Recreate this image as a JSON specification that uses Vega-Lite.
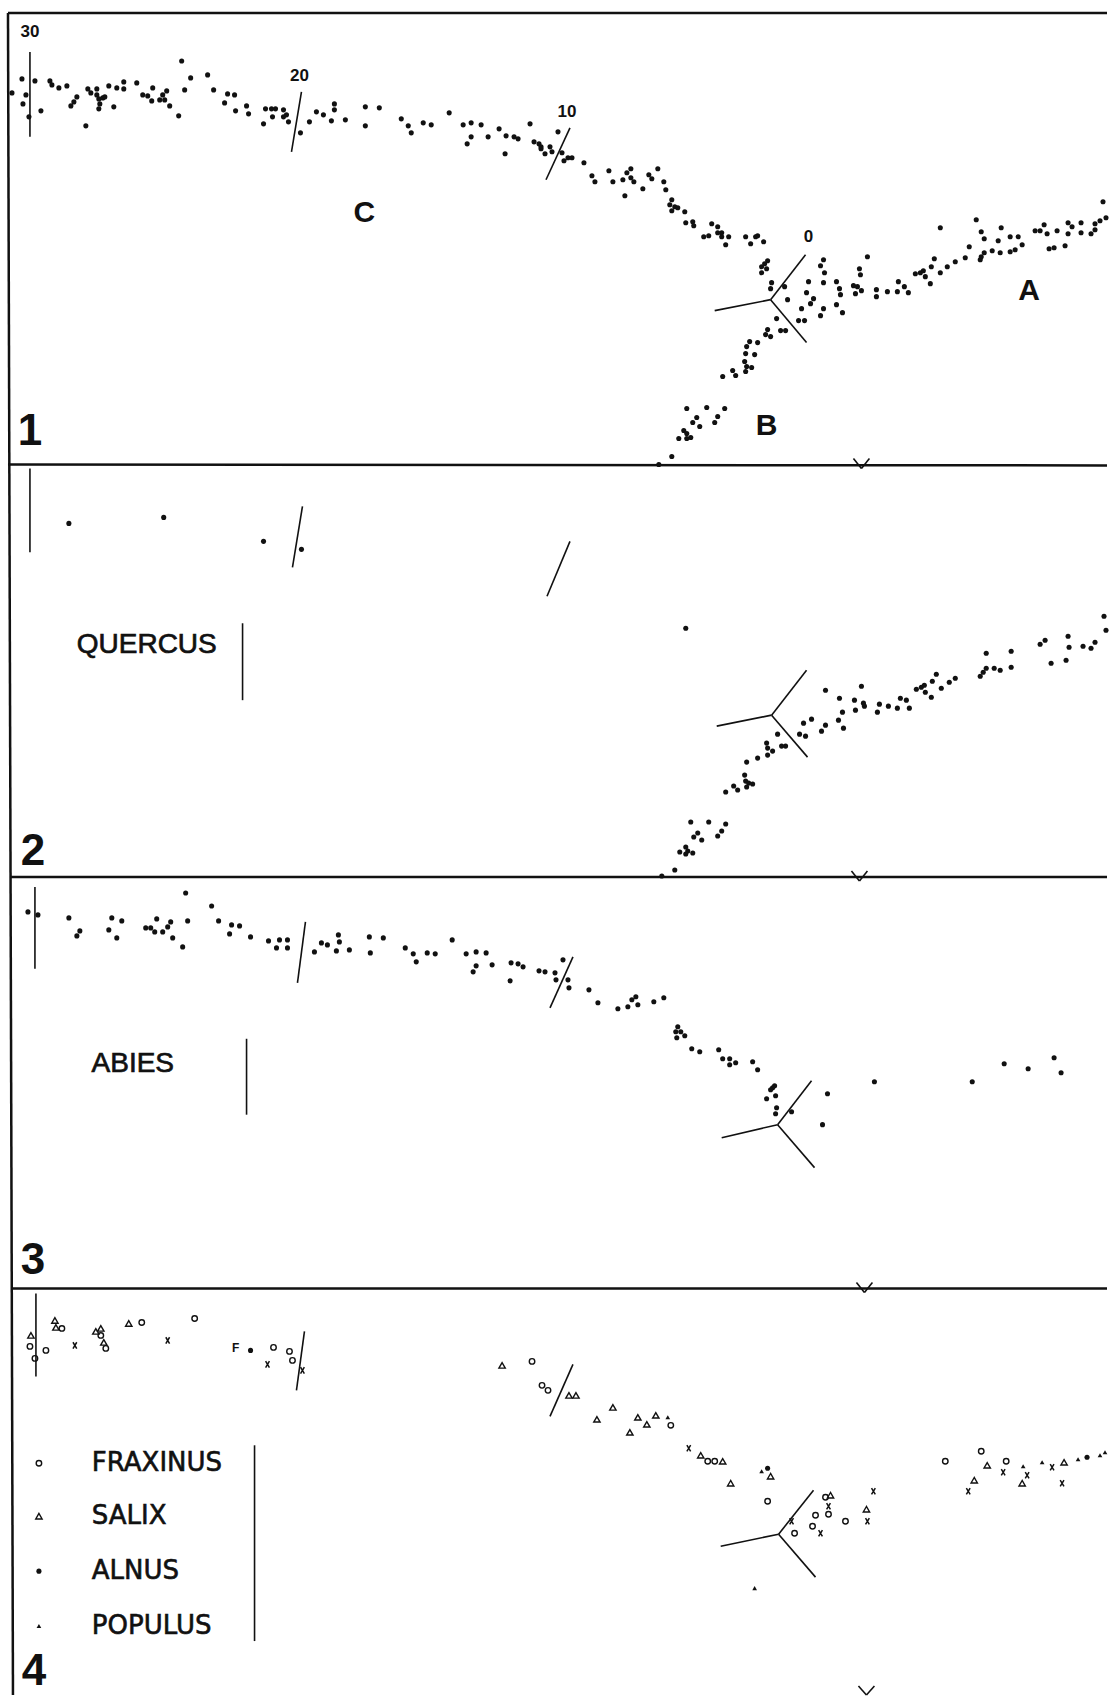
{
"$schema":"https://vega.github.io/schema/vega-lite/v6.json",
"width":1109,"height":1697,"padding":0,
"autosize":{"type":"fit","contains":"padding"},
"background":"white",
"config":{"view":{"stroke":null}},
"datasets":{
"pts":[
{"x":12,"y":93,"s":"dot"},{"x":22,"y":79,"s":"dot"},{"x":26,"y":95,"s":"dot"},{"x":23,"y":104,"s":"dot"},{"x":29,"y":117,"s":"dot"},{"x":35,"y":81,"s":"dot"},{"x":41,"y":111,"s":"dot"},{"x":50,"y":81,"s":"dot"},{"x":52,"y":85,"s":"dot"},{"x":59,"y":88,"s":"dot"},{"x":67,"y":86,"s":"dot"},{"x":71,"y":106,"s":"dot"},{"x":74,"y":102,"s":"dot"},{"x":77,"y":97,"s":"dot"},{"x":86,"y":126,"s":"dot"},{"x":88,"y":89,"s":"dot"},{"x":91,"y":93,"s":"dot"},{"x":97,"y":89,"s":"dot"},{"x":97,"y":95,"s":"dot"},{"x":99,"y":99,"s":"dot"},{"x":100,"y":104,"s":"dot"},{"x":99,"y":109,"s":"dot"},{"x":103,"y":98,"s":"dot"},{"x":105,"y":97,"s":"dot"},{"x":109,"y":86,"s":"dot"},{"x":114,"y":107,"s":"dot"},{"x":117,"y":88,"s":"dot"},{"x":124,"y":82,"s":"dot"},{"x":124,"y":89,"s":"dot"},{"x":137,"y":83,"s":"dot"},{"x":143,"y":95,"s":"dot"},{"x":148,"y":96,"s":"dot"},{"x":153,"y":88,"s":"dot"},{"x":152,"y":101,"s":"dot"},{"x":160,"y":100,"s":"dot"},{"x":163,"y":95,"s":"dot"},{"x":167,"y":91,"s":"dot"},{"x":165,"y":100,"s":"dot"},{"x":170,"y":106,"s":"dot"},{"x":179,"y":116,"s":"dot"},{"x":182,"y":61,"s":"dot"},{"x":185,"y":90,"s":"dot"},{"x":191,"y":78,"s":"dot"},{"x":208,"y":75,"s":"dot"},{"x":214,"y":90,"s":"dot"},{"x":225,"y":103,"s":"dot"},{"x":228,"y":94,"s":"dot"},{"x":235,"y":95,"s":"dot"},{"x":236,"y":111,"s":"dot"},{"x":247,"y":106,"s":"dot"},{"x":249,"y":114,"s":"dot"},{"x":264,"y":124,"s":"dot"},{"x":266,"y":109,"s":"dot"},{"x":272,"y":109,"s":"dot"},{"x":273,"y":117,"s":"dot"},{"x":276,"y":109,"s":"dot"},{"x":284,"y":110,"s":"dot"},{"x":284,"y":117,"s":"dot"},{"x":287,"y":115,"s":"dot"},{"x":289,"y":122,"s":"dot"},{"x":301,"y":133,"s":"dot"},{"x":310,"y":122,"s":"dot"},{"x":317,"y":112,"s":"dot"},{"x":324,"y":115,"s":"dot"},{"x":332,"y":121,"s":"dot"},{"x":335,"y":104,"s":"dot"},{"x":335,"y":110,"s":"dot"},{"x":346,"y":120,"s":"dot"},{"x":366,"y":107,"s":"dot"},{"x":366,"y":126,"s":"dot"},{"x":380,"y":108,"s":"dot"},{"x":402,"y":119,"s":"dot"},{"x":409,"y":126,"s":"dot"},{"x":412,"y":133,"s":"dot"},
{"x":424,"y":123,"s":"dot"},{"x":432,"y":125,"s":"dot"},{"x":450,"y":113,"s":"dot"},{"x":464,"y":125,"s":"dot"},{"x":472,"y":123,"s":"dot"},{"x":468,"y":144,"s":"dot"},{"x":472,"y":137,"s":"dot"},{"x":482,"y":125,"s":"dot"},{"x":489,"y":137,"s":"dot"},{"x":500,"y":129,"s":"dot"},{"x":507,"y":136,"s":"dot"},{"x":506,"y":154,"s":"dot"},{"x":515,"y":137,"s":"dot"},{"x":519,"y":139,"s":"dot"},{"x":531,"y":124,"s":"dot"},{"x":535,"y":142,"s":"dot"},{"x":540,"y":144,"s":"dot"},{"x":542,"y":147,"s":"dot"},{"x":542,"y":149,"s":"dot"},{"x":546,"y":154,"s":"dot"},{"x":551,"y":147,"s":"dot"},{"x":553,"y":152,"s":"dot"},{"x":559,"y":132,"s":"dot"},{"x":563,"y":153,"s":"dot"},{"x":565,"y":161,"s":"dot"},{"x":569,"y":158,"s":"dot"},{"x":573,"y":158,"s":"dot"},{"x":585,"y":163,"s":"dot"},{"x":593,"y":176,"s":"dot"},{"x":596,"y":182,"s":"dot"},{"x":610,"y":171,"s":"dot"},{"x":614,"y":182,"s":"dot"},{"x":624,"y":180,"s":"dot"},{"x":628,"y":173,"s":"dot"},{"x":632,"y":169,"s":"dot"},{"x":632,"y":178,"s":"dot"},{"x":635,"y":182,"s":"dot"},{"x":626,"y":196,"s":"dot"},{"x":644,"y":189,"s":"dot"},{"x":650,"y":175,"s":"dot"},{"x":653,"y":179,"s":"dot"},{"x":659,"y":169,"s":"dot"},{"x":665,"y":182,"s":"dot"},{"x":667,"y":190,"s":"dot"},{"x":673,"y":200,"s":"dot"},{"x":671,"y":205,"s":"dot"},{"x":676,"y":207,"s":"dot"},{"x":679,"y":208,"s":"dot"},{"x":673,"y":211,"s":"dot"},{"x":686,"y":212,"s":"dot"},{"x":687,"y":223,"s":"dot"},{"x":694,"y":222,"s":"dot"},{"x":695,"y":226,"s":"dot"},{"x":705,"y":237,"s":"dot"},{"x":710,"y":236,"s":"dot"},{"x":713,"y":224,"s":"dot"},{"x":719,"y":227,"s":"dot"},{"x":719,"y":233,"s":"dot"},{"x":723,"y":233,"s":"dot"},{"x":723,"y":237,"s":"dot"},{"x":727,"y":245,"s":"dot"},{"x":730,"y":237,"s":"dot"},{"x":747,"y":237,"s":"dot"},{"x":752,"y":244,"s":"dot"},{"x":757,"y":237,"s":"dot"},{"x":759,"y":236,"s":"dot"},{"x":765,"y":242,"s":"dot"},
{"x":769,"y":261,"s":"dot"},{"x":766,"y":264,"s":"dot"},{"x":763,"y":267,"s":"dot"},{"x":768,"y":269,"s":"dot"},{"x":763,"y":273,"s":"dot"},{"x":773,"y":283,"s":"dot"},{"x":772,"y":289,"s":"dot"},{"x":786,"y":287,"s":"dot"},{"x":789,"y":300,"s":"dot"},{"x":778,"y":319,"s":"dot"},{"x":782,"y":331,"s":"dot"},{"x":787,"y":331,"s":"dot"},{"x":769,"y":330,"s":"dot"},{"x":772,"y":337,"s":"dot"},{"x":767,"y":335,"s":"dot"},{"x":759,"y":343,"s":"dot"},{"x":751,"y":342,"s":"dot"},{"x":748,"y":347,"s":"dot"},{"x":747,"y":354,"s":"dot"},{"x":756,"y":355,"s":"dot"},{"x":746,"y":362,"s":"dot"},{"x":748,"y":367,"s":"dot"},{"x":753,"y":368,"s":"dot"},{"x":747,"y":372,"s":"dot"},{"x":734,"y":371,"s":"dot"},{"x":737,"y":376,"s":"dot"},{"x":724,"y":377,"s":"dot"},{"x":688,"y":409,"s":"dot"},{"x":708,"y":408,"s":"dot"},{"x":726,"y":409,"s":"dot"},{"x":698,"y":418,"s":"dot"},{"x":694,"y":423,"s":"dot"},{"x":719,"y":417,"s":"dot"},{"x":716,"y":423,"s":"dot"},{"x":701,"y":427,"s":"dot"},{"x":685,"y":431,"s":"dot"},{"x":688,"y":434,"s":"dot"},{"x":692,"y":438,"s":"dot"},{"x":680,"y":439,"s":"dot"},{"x":688,"y":439,"s":"dot"},{"x":673,"y":457,"s":"dot"},{"x":660,"y":465,"s":"dot"},
{"x":825,"y":260,"s":"dot"},{"x":822,"y":266,"s":"dot"},{"x":826,"y":273,"s":"dot"},{"x":810,"y":282,"s":"dot"},{"x":825,"y":283,"s":"dot"},{"x":808,"y":293,"s":"dot"},{"x":815,"y":299,"s":"dot"},{"x":812,"y":304,"s":"dot"},{"x":803,"y":309,"s":"dot"},{"x":800,"y":321,"s":"dot"},{"x":806,"y":321,"s":"dot"},{"x":825,"y":309,"s":"dot"},{"x":822,"y":316,"s":"dot"},{"x":838,"y":282,"s":"dot"},{"x":841,"y":289,"s":"dot"},{"x":842,"y":295,"s":"dot"},{"x":838,"y":305,"s":"dot"},{"x":844,"y":313,"s":"dot"},{"x":869,"y":257,"s":"dot"},{"x":861,"y":269,"s":"dot"},{"x":862,"y":275,"s":"dot"},{"x":855,"y":286,"s":"dot"},{"x":859,"y":287,"s":"dot"},{"x":863,"y":291,"s":"dot"},{"x":857,"y":294,"s":"dot"},{"x":878,"y":290,"s":"dot"},{"x":878,"y":297,"s":"dot"},{"x":889,"y":292,"s":"dot"},{"x":899,"y":292,"s":"dot"},{"x":900,"y":282,"s":"dot"},{"x":906,"y":287,"s":"dot"},{"x":910,"y":293,"s":"dot"},{"x":917,"y":274,"s":"dot"},{"x":922,"y":273,"s":"dot"},{"x":925,"y":271,"s":"dot"},{"x":927,"y":277,"s":"dot"},{"x":932,"y":284,"s":"dot"},{"x":936,"y":259,"s":"dot"},{"x":933,"y":267,"s":"dot"},{"x":942,"y":273,"s":"dot"},{"x":949,"y":267,"s":"dot"},{"x":957,"y":262,"s":"dot"},{"x":967,"y":258,"s":"dot"},{"x":942,"y":228,"s":"dot"},{"x":971,"y":247,"s":"dot"},{"x":978,"y":220,"s":"dot"},{"x":983,"y":232,"s":"dot"},{"x":986,"y":239,"s":"dot"},{"x":982,"y":260,"s":"dot"},{"x":983,"y":257,"s":"dot"},{"x":986,"y":253,"s":"dot"},{"x":994,"y":251,"s":"dot"},{"x":1000,"y":241,"s":"dot"},{"x":1003,"y":228,"s":"dot"},{"x":1002,"y":253,"s":"dot"},{"x":1012,"y":237,"s":"dot"},{"x":1012,"y":252,"s":"dot"},{"x":1017,"y":250,"s":"dot"},{"x":1020,"y":237,"s":"dot"},{"x":1024,"y":245,"s":"dot"},{"x":1037,"y":231,"s":"dot"},{"x":1042,"y":231,"s":"dot"},{"x":1046,"y":225,"s":"dot"},{"x":1049,"y":234,"s":"dot"},{"x":1051,"y":249,"s":"dot"},{"x":1056,"y":248,"s":"dot"},{"x":1059,"y":231,"s":"dot"},{"x":1067,"y":246,"s":"dot"},{"x":1070,"y":223,"s":"dot"},{"x":1070,"y":234,"s":"dot"},{"x":1074,"y":227,"s":"dot"},{"x":1083,"y":223,"s":"dot"},{"x":1083,"y":233,"s":"dot"},{"x":1093,"y":234,"s":"dot"},{"x":1097,"y":230,"s":"dot"},{"x":1097,"y":224,"s":"dot"},{"x":1102,"y":221,"s":"dot"},{"x":1105,"y":202,"s":"dot"},{"x":1108,"y":218,"s":"dot"},
{"x":69,"y":524,"s":"dot"},{"x":164,"y":518,"s":"dot"},{"x":264,"y":542,"s":"dot"},{"x":302,"y":550,"s":"dot"},{"x":687,"y":629,"s":"dot"},
{"x":827,"y":691,"s":"dot"},{"x":841,"y":699,"s":"dot"},{"x":863,"y":687,"s":"dot"},{"x":856,"y":701,"s":"dot"},{"x":865,"y":704,"s":"dot"},{"x":866,"y":707,"s":"dot"},{"x":857,"y":711,"s":"dot"},{"x":881,"y":705,"s":"dot"},{"x":879,"y":713,"s":"dot"},{"x":890,"y":707,"s":"dot"},{"x":899,"y":709,"s":"dot"},{"x":902,"y":699,"s":"dot"},{"x":908,"y":701,"s":"dot"},{"x":911,"y":709,"s":"dot"},{"x":918,"y":690,"s":"dot"},{"x":923,"y":688,"s":"dot"},{"x":926,"y":686,"s":"dot"},{"x":927,"y":693,"s":"dot"},{"x":933,"y":698,"s":"dot"},{"x":934,"y":682,"s":"dot"},{"x":938,"y":675,"s":"dot"},{"x":943,"y":689,"s":"dot"},{"x":951,"y":683,"s":"dot"},{"x":957,"y":679,"s":"dot"},{"x":982,"y":677,"s":"dot"},{"x":985,"y":673,"s":"dot"},{"x":988,"y":654,"s":"dot"},{"x":988,"y":669,"s":"dot"},{"x":996,"y":669,"s":"dot"},{"x":1002,"y":671,"s":"dot"},{"x":1013,"y":652,"s":"dot"},{"x":1013,"y":668,"s":"dot"},{"x":1042,"y":645,"s":"dot"},{"x":1047,"y":641,"s":"dot"},{"x":1053,"y":664,"s":"dot"},{"x":1068,"y":661,"s":"dot"},{"x":1070,"y":637,"s":"dot"},{"x":1071,"y":648,"s":"dot"},{"x":1085,"y":647,"s":"dot"},{"x":1093,"y":649,"s":"dot"},{"x":1097,"y":643,"s":"dot"},{"x":1106,"y":617,"s":"dot"},{"x":1108,"y":631,"s":"dot"},
{"x":844,"y":713,"s":"dot"},{"x":840,"y":721,"s":"dot"},{"x":845,"y":729,"s":"dot"},{"x":827,"y":726,"s":"dot"},{"x":823,"y":732,"s":"dot"},{"x":813,"y":720,"s":"dot"},{"x":805,"y":724,"s":"dot"},{"x":801,"y":735,"s":"dot"},{"x":807,"y":737,"s":"dot"},{"x":779,"y":735,"s":"dot"},{"x":783,"y":747,"s":"dot"},{"x":787,"y":747,"s":"dot"},{"x":768,"y":744,"s":"dot"},{"x":769,"y":749,"s":"dot"},{"x":774,"y":752,"s":"dot"},{"x":769,"y":756,"s":"dot"},{"x":759,"y":759,"s":"dot"},{"x":748,"y":763,"s":"dot"},{"x":746,"y":776,"s":"dot"},{"x":747,"y":782,"s":"dot"},{"x":750,"y":784,"s":"dot"},{"x":748,"y":788,"s":"dot"},{"x":754,"y":785,"s":"dot"},{"x":739,"y":791,"s":"dot"},{"x":735,"y":787,"s":"dot"},{"x":727,"y":793,"s":"dot"},{"x":692,"y":823,"s":"dot"},{"x":710,"y":823,"s":"dot"},{"x":727,"y":825,"s":"dot"},{"x":699,"y":834,"s":"dot"},{"x":695,"y":838,"s":"dot"},{"x":703,"y":841,"s":"dot"},{"x":723,"y":832,"s":"dot"},{"x":719,"y":837,"s":"dot"},{"x":681,"y":853,"s":"dot"},{"x":687,"y":848,"s":"dot"},{"x":689,"y":852,"s":"dot"},{"x":694,"y":854,"s":"dot"},{"x":687,"y":855,"s":"dot"},{"x":676,"y":871,"s":"dot"},{"x":663,"y":877,"s":"dot"},
{"x":28,"y":913,"s":"dot"},{"x":38,"y":916,"s":"dot"},{"x":69,"y":919,"s":"dot"},{"x":80,"y":932,"s":"dot"},{"x":77,"y":937,"s":"dot"},{"x":109,"y":931,"s":"dot"},{"x":112,"y":919,"s":"dot"},{"x":117,"y":939,"s":"dot"},{"x":122,"y":922,"s":"dot"},{"x":146,"y":929,"s":"dot"},{"x":151,"y":929,"s":"dot"},{"x":155,"y":933,"s":"dot"},{"x":157,"y":920,"s":"dot"},{"x":163,"y":933,"s":"dot"},{"x":168,"y":928,"s":"dot"},{"x":171,"y":923,"s":"dot"},{"x":173,"y":939,"s":"dot"},{"x":183,"y":948,"s":"dot"},{"x":186,"y":894,"s":"dot"},{"x":188,"y":922,"s":"dot"},{"x":212,"y":907,"s":"dot"},{"x":219,"y":922,"s":"dot"},{"x":230,"y":935,"s":"dot"},{"x":232,"y":926,"s":"dot"},{"x":240,"y":927,"s":"dot"},{"x":251,"y":938,"s":"dot"},{"x":269,"y":942,"s":"dot"},{"x":277,"y":949,"s":"dot"},{"x":280,"y":941,"s":"dot"},{"x":288,"y":941,"s":"dot"},{"x":288,"y":949,"s":"dot"},{"x":315,"y":953,"s":"dot"},{"x":322,"y":944,"s":"dot"},{"x":328,"y":946,"s":"dot"},{"x":337,"y":952,"s":"dot"},{"x":339,"y":936,"s":"dot"},{"x":340,"y":943,"s":"dot"},{"x":350,"y":951,"s":"dot"},{"x":370,"y":938,"s":"dot"},{"x":371,"y":954,"s":"dot"},{"x":384,"y":939,"s":"dot"},{"x":406,"y":949,"s":"dot"},{"x":414,"y":955,"s":"dot"},{"x":417,"y":963,"s":"dot"},{"x":428,"y":954,"s":"dot"},{"x":436,"y":955,"s":"dot"},{"x":453,"y":941,"s":"dot"},{"x":467,"y":955,"s":"dot"},{"x":477,"y":953,"s":"dot"},{"x":477,"y":967,"s":"dot"},{"x":474,"y":973,"s":"dot"},{"x":487,"y":954,"s":"dot"},{"x":493,"y":966,"s":"dot"},{"x":512,"y":964,"s":"dot"},{"x":511,"y":982,"s":"dot"},{"x":519,"y":965,"s":"dot"},{"x":524,"y":968,"s":"dot"},{"x":540,"y":972,"s":"dot"},{"x":546,"y":973,"s":"dot"},{"x":556,"y":974,"s":"dot"},{"x":557,"y":981,"s":"dot"},{"x":564,"y":961,"s":"dot"},{"x":569,"y":981,"s":"dot"},{"x":570,"y":989,"s":"dot"},{"x":590,"y":991,"s":"dot"},{"x":599,"y":1004,"s":"dot"},
{"x":619,"y":1010,"s":"dot"},{"x":629,"y":1008,"s":"dot"},{"x":633,"y":1001,"s":"dot"},{"x":637,"y":998,"s":"dot"},{"x":639,"y":1006,"s":"dot"},{"x":655,"y":1003,"s":"dot"},{"x":665,"y":999,"s":"dot"},{"x":679,"y":1028,"s":"dot"},{"x":677,"y":1033,"s":"dot"},{"x":682,"y":1033,"s":"dot"},{"x":686,"y":1037,"s":"dot"},{"x":678,"y":1039,"s":"dot"},{"x":693,"y":1050,"s":"dot"},{"x":701,"y":1053,"s":"dot"},{"x":720,"y":1051,"s":"dot"},{"x":724,"y":1060,"s":"dot"},{"x":731,"y":1060,"s":"dot"},{"x":731,"y":1066,"s":"dot"},{"x":737,"y":1064,"s":"dot"},{"x":754,"y":1063,"s":"dot"},{"x":759,"y":1071,"s":"dot"},{"x":776,"y":1087,"s":"dot"},{"x":774,"y":1089,"s":"dot"},{"x":772,"y":1091,"s":"dot"},{"x":777,"y":1097,"s":"dot"},{"x":768,"y":1100,"s":"dot"},{"x":778,"y":1109,"s":"dot"},{"x":777,"y":1115,"s":"dot"},{"x":793,"y":1113,"s":"dot"},{"x":829,"y":1095,"s":"dot"},{"x":824,"y":1126,"s":"dot"},{"x":876,"y":1083,"s":"dot"},{"x":974,"y":1083,"s":"dot"},{"x":1006,"y":1065,"s":"dot"},{"x":1030,"y":1070,"s":"dot"},{"x":1056,"y":1059,"s":"dot"},{"x":1063,"y":1074,"s":"dot"},
{"x":31,"y":1337,"s":"tri"},{"x":30,"y":1348,"s":"circ"},{"x":35,"y":1360,"s":"circ"},{"x":46,"y":1352,"s":"circ"},{"x":55,"y":1322,"s":"tri"},{"x":56,"y":1329,"s":"tri"},{"x":62,"y":1330,"s":"circ"},{"x":75,"y":1347,"s":"x"},{"x":96,"y":1333,"s":"tri"},{"x":101,"y":1330,"s":"tri"},{"x":101,"y":1337,"s":"circ"},{"x":104,"y":1344,"s":"tri"},{"x":106,"y":1350,"s":"circ"},{"x":129,"y":1325,"s":"tri"},{"x":142,"y":1324,"s":"circ"},{"x":168,"y":1342,"s":"x"},{"x":195,"y":1320,"s":"circ"},{"x":251,"y":1352,"s":"dot"},{"x":274,"y":1349,"s":"circ"},{"x":268,"y":1366,"s":"x"},{"x":290,"y":1353,"s":"circ"},{"x":293,"y":1362,"s":"circ"},{"x":303,"y":1372,"s":"x"},
{"x":503,"y":1367,"s":"tri"},{"x":533,"y":1363,"s":"circ"},{"x":543,"y":1387,"s":"circ"},{"x":549,"y":1392,"s":"circ"},{"x":570,"y":1397,"s":"tri"},{"x":577,"y":1397,"s":"tri"},{"x":598,"y":1421,"s":"tri"},{"x":614,"y":1409,"s":"tri"},{"x":631,"y":1434,"s":"tri"},{"x":639,"y":1419,"s":"tri"},{"x":648,"y":1426,"s":"tri"},{"x":657,"y":1417,"s":"tri"},{"x":669,"y":1419,"s":"ptri"},{"x":672,"y":1427,"s":"circ"},{"x":690,"y":1450,"s":"x"},{"x":702,"y":1457,"s":"tri"},{"x":709,"y":1463,"s":"circ"},{"x":716,"y":1463,"s":"circ"},{"x":724,"y":1463,"s":"tri"},{"x":732,"y":1485,"s":"tri"},{"x":763,"y":1473,"s":"ptri"},{"x":769,"y":1470,"s":"dot"},{"x":772,"y":1478,"s":"tri"},{"x":769,"y":1503,"s":"circ"},{"x":793,"y":1523,"s":"x"},{"x":796,"y":1535,"s":"circ"},{"x":814,"y":1528,"s":"circ"},{"x":817,"y":1517,"s":"circ"},{"x":822,"y":1535,"s":"x"},{"x":827,"y":1499,"s":"circ"},{"x":832,"y":1497,"s":"tri"},{"x":830,"y":1508,"s":"x"},{"x":830,"y":1516,"s":"circ"},{"x":847,"y":1523,"s":"circ"},{"x":868,"y":1511,"s":"tri"},{"x":869,"y":1523,"s":"x"},{"x":875,"y":1493,"s":"x"},{"x":756,"y":1590,"s":"ptri"},{"x":947,"y":1463,"s":"circ"},{"x":970,"y":1493,"s":"x"},{"x":976,"y":1482,"s":"tri"},{"x":983,"y":1453,"s":"circ"},{"x":989,"y":1467,"s":"tri"},{"x":1005,"y":1474,"s":"x"},{"x":1008,"y":1463,"s":"circ"},{"x":1025,"y":1468,"s":"ptri"},{"x":1024,"y":1485,"s":"tri"},{"x":1029,"y":1477,"s":"x"},{"x":1044,"y":1464,"s":"ptri"},{"x":1054,"y":1469,"s":"x"},{"x":1066,"y":1464,"s":"tri"},{"x":1064,"y":1485,"s":"x"},{"x":1080,"y":1461,"s":"ptri"},{"x":1089,"y":1459,"s":"dot"},{"x":1102,"y":1457,"s":"ptri"},{"x":1107,"y":1454,"s":"ptri"},
{"x":39,"y":1465,"s":"circ"},{"x":39,"y":1518,"s":"tri"},{"x":39,"y":1573,"s":"dot"},{"x":39,"y":1628,"s":"ptri"}
],
"segs":[
{"x":8,"y":13,"x2":1109,"y2":13,"k":"frame"},
{"x":8,"y":13,"x2":13,"y2":1697,"k":"frame"},
{"x":8,"y":465,"x2":1109,"y2":466,"k":"frame"},
{"x":10,"y":878,"x2":1109,"y2":878,"k":"frame"},
{"x":12,"y":1290,"x2":1109,"y2":1290,"k":"frame"},
{"x":855,"y":459,"x2":863,"y2":469,"k":"line"},{"x":863,"y":469,"x2":871,"y2":459,"k":"line"},
{"x":853,"y":872,"x2":861,"y2":882,"k":"line"},{"x":861,"y":882,"x2":869,"y2":872,"k":"line"},
{"x":858,"y":1284,"x2":866,"y2":1294,"k":"line"},{"x":866,"y":1294,"x2":874,"y2":1284,"k":"line"},
{"x":860,"y":1688,"x2":868,"y2":1697,"k":"line"},{"x":868,"y":1697,"x2":876,"y2":1688,"k":"line"},
{"x":30,"y":52,"x2":30,"y2":137,"k":"line"},
{"x":302,"y":92,"x2":292,"y2":152,"k":"line"},
{"x":571,"y":128,"x2":547,"y2":180,"k":"line"},
{"x":772,"y":300,"x2":807,"y2":255,"k":"line"},{"x":772,"y":300,"x2":716,"y2":311,"k":"line"},{"x":772,"y":300,"x2":808,"y2":343,"k":"line"},
{"x":30,"y":469,"x2":30,"y2":553,"k":"line"},
{"x":303,"y":507,"x2":293,"y2":568,"k":"line"},
{"x":571,"y":542,"x2":548,"y2":597,"k":"line"},
{"x":243,"y":624,"x2":243,"y2":701,"k":"line"},
{"x":773,"y":716,"x2":808,"y2":671,"k":"line"},{"x":773,"y":716,"x2":718,"y2":727,"k":"line"},{"x":773,"y":716,"x2":809,"y2":758,"k":"line"},
{"x":35,"y":888,"x2":35,"y2":970,"k":"line"},
{"x":306,"y":923,"x2":298,"y2":984,"k":"line"},
{"x":574,"y":958,"x2":551,"y2":1009,"k":"line"},
{"x":247,"y":1040,"x2":247,"y2":1116,"k":"line"},
{"x":779,"y":1126,"x2":813,"y2":1082,"k":"line"},{"x":779,"y":1126,"x2":723,"y2":1139,"k":"line"},{"x":779,"y":1126,"x2":816,"y2":1169,"k":"line"},
{"x":36,"y":1295,"x2":36,"y2":1378,"k":"line"},
{"x":305,"y":1333,"x2":297,"y2":1392,"k":"line"},
{"x":574,"y":1366,"x2":551,"y2":1418,"k":"line"},
{"x":255,"y":1447,"x2":255,"y2":1643,"k":"line"},
{"x":780,"y":1536,"x2":815,"y2":1492,"k":"line"},{"x":780,"y":1536,"x2":722,"y2":1548,"k":"line"},{"x":780,"y":1536,"x2":817,"y2":1579,"k":"line"}
],
"labels":[
{"t":"30","x":30,"y":32,"k":"num"},{"t":"20","x":300,"y":76,"k":"num"},{"t":"10","x":568,"y":112,"k":"num"},{"t":"0","x":810,"y":237,"k":"num"},
{"t":"C","x":365,"y":213,"k":"letter"},{"t":"A","x":1031,"y":291,"k":"letter"},{"t":"B","x":768,"y":427,"k":"letter"},
{"t":"1","x":30,"y":433,"k":"panel"},{"t":"2","x":33,"y":853,"k":"panel"},{"t":"3","x":33,"y":1262,"k":"panel"},{"t":"4","x":34,"y":1674,"k":"panel"},
{"t":"QUERCUS","x":147,"y":646,"k":"taxon"},{"t":"ABIES","x":133,"y":1065,"k":"taxon"},
{"t":"F","x":236,"y":1350,"k":"small"}
],
"legend":[
{"t":"FRAXINUS","x":92,"y":1465},{"t":"SALIX","x":92,"y":1518},{"t":"ALNUS","x":92,"y":1573},{"t":"POPULUS","x":92,"y":1628}
]
},
"encoding":{
"x":{"field":"x","type":"quantitative","scale":{"domain":[0,1109],"nice":false,"zero":false},"axis":null},
"y":{"field":"y","type":"quantitative","scale":{"domain":[0,1697],"nice":false,"zero":false,"reverse":true},"axis":null}
},
"layer":[
{"data":{"name":"segs"},"transform":[{"filter":"datum.k==='frame'"}],"mark":{"type":"rule","color":"#111","strokeWidth":2.5},"encoding":{"x2":{"field":"x2"},"y2":{"field":"y2"}}},
{"data":{"name":"segs"},"transform":[{"filter":"datum.k==='line'"}],"mark":{"type":"rule","color":"#111","strokeWidth":1.6},"encoding":{"x2":{"field":"x2"},"y2":{"field":"y2"}}},
{"data":{"name":"pts"},"transform":[{"filter":"datum.s==='dot'"}],"mark":{"type":"point","filled":true,"color":"#111","size":26,"opacity":1}},
{"data":{"name":"pts"},"transform":[{"filter":"datum.s==='ptri'"}],"mark":{"type":"point","shape":"triangle-up","filled":true,"color":"#111","size":22,"opacity":1}},
{"data":{"name":"pts"},"transform":[{"filter":"datum.s==='circ'"}],"mark":{"type":"point","shape":"circle","filled":false,"color":"#111","strokeWidth":1.4,"size":30,"opacity":1}},
{"data":{"name":"pts"},"transform":[{"filter":"datum.s==='tri'"}],"mark":{"type":"point","shape":"triangle-up","filled":false,"color":"#111","strokeWidth":1.4,"size":40,"opacity":1}},
{"data":{"name":"pts"},"transform":[{"filter":"datum.s==='x'"}],"mark":{"type":"point","shape":"M-0.6,-1L0.6,1M0.6,-1L-0.6,1","filled":false,"color":"#111","strokeWidth":1.5,"size":40,"opacity":1}},
{"data":{"name":"labels"},"transform":[{"filter":"datum.k==='num'"}],"mark":{"type":"text","font":"Liberation Sans","fontWeight":"bold","fontSize":17,"align":"center","baseline":"middle","color":"#111"},"encoding":{"text":{"field":"t"}}},
{"data":{"name":"labels"},"transform":[{"filter":"datum.k==='letter'"}],"mark":{"type":"text","font":"Liberation Sans","fontWeight":"bold","fontSize":30,"align":"center","baseline":"middle","color":"#111"},"encoding":{"text":{"field":"t"}}},
{"data":{"name":"labels"},"transform":[{"filter":"datum.k==='panel'"}],"mark":{"type":"text","font":"Liberation Sans","fontWeight":"bold","fontSize":44,"align":"center","baseline":"middle","color":"#111"},"encoding":{"text":{"field":"t"}}},
{"data":{"name":"labels"},"transform":[{"filter":"datum.k==='taxon'"}],"mark":{"type":"text","font":"Liberation Sans","fontSize":28,"align":"center","baseline":"middle","color":"#111","stroke":"#111","strokeWidth":0.7},"encoding":{"text":{"field":"t"}}},
{"data":{"name":"labels"},"transform":[{"filter":"datum.k==='small'"}],"mark":{"type":"text","font":"Liberation Sans","fontWeight":"bold","fontSize":12,"align":"center","baseline":"middle","color":"#111"},"encoding":{"text":{"field":"t"}}},
{"data":{"name":"legend"},"mark":{"type":"text","font":"DejaVu Sans","fontSize":26,"align":"left","baseline":"middle","color":"#111","stroke":"#111","strokeWidth":0.6},"encoding":{"text":{"field":"t"}}}
]
}
